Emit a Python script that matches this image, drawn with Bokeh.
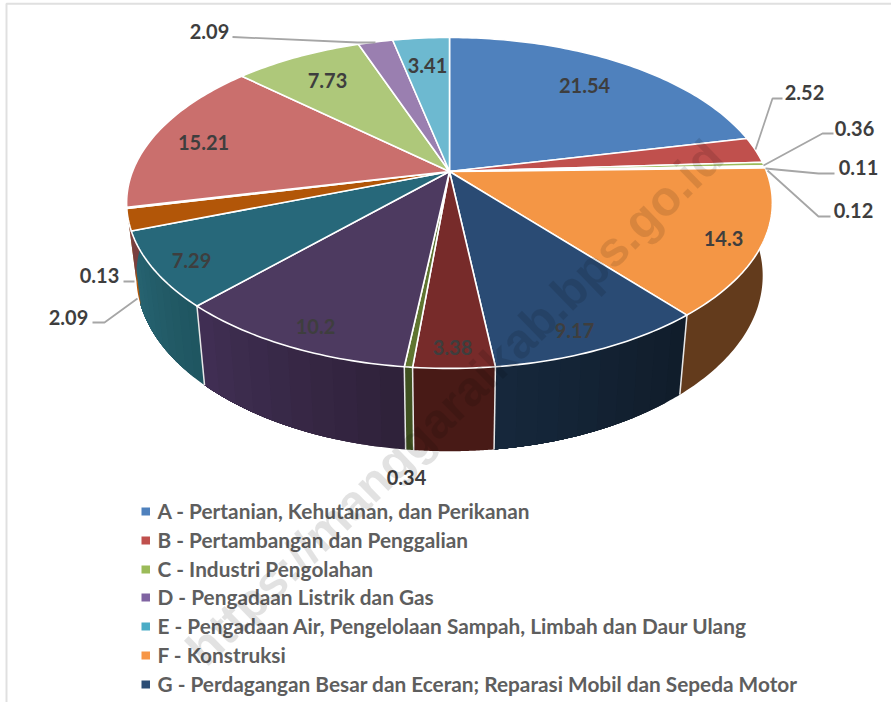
import numpy as np
from bokeh.plotting import figure
from bokeh.models import Range1d
from bokeh.embed import file_html
from bokeh.resources import INLINE
from bokeh.core.properties import value

# ---- data (clockwise from 12 o'clock) ----
slice_values = [21.54, 2.52, 0.36, 0.11, 0.12, 14.3, 9.17, 3.38, 0.34, 10.2, 7.29, 2.09, 0.13, 15.21, 7.73, 2.09, 3.41]
slice_labels = ["21.54", "2.52", "0.36", "0.11", "0.12", "14.3", "9.17", "3.38", "0.34", "10.2", "7.29", "2.09", "0.13", "15.21", "7.73", "2.09", "3.41"]
top_colors = ["#4F81BD", "#C0504D", "#9BBB59", "#8064A2", "#4BACC6", "#F49645", "#2A4B74", "#772B2A", "#5F7530",
              "#4D3A60", "#27687A", "#B25608", "#7C9ECF", "#CA6F6D", "#AEC87A", "#9A7FB0", "#6DB9D0"]
wall_left = ["#2F4D72", "#73302E", "#5D7035", "#4D3C61", "#2D6777", "#633B1C", "#101C2A", "#481A16", "#3F5120",
             "#2E2139", "#1F5560", "#B25608", "#4A5F7C", "#793F3F", "#68784A", "#5C4C6A", "#416F7D"]
wall_right = ["#2F4D72", "#73302E", "#5D7035", "#4D3C61", "#2D6777", "#633B1C", "#16283C", "#481A16", "#3F5120",
              "#412F54", "#276472", "#B25608", "#4A5F7C", "#793F3F", "#68784A", "#5C4C6A", "#416F7D"]
legend_names = ["A - Pertanian, Kehutanan, dan Perikanan",
                "B - Pertambangan dan Penggalian",
                "C - Industri Pengolahan",
                "D - Pengadaan Listrik dan Gas",
                "E - Pengadaan Air, Pengelolaan Sampah, Limbah dan Daur Ulang",
                "F - Konstruksi",
                "G - Perdagangan Besar dan Eceran; Reparasi Mobil dan Sepeda Motor"]
legend_colors = ["#4F81BD", "#C0504D", "#9BBB59", "#8064A2", "#4BACC6", "#F79646", "#2C4D75"]
watermark = "https://manggaraikab.bps.go.id"

# ---- layout (page pixels) ----
CX, CY = 449.0, 171.0       # apex of the pie on the page
A_X, B_Y, K = 317.0, 159.5, 0.19   # perspective of the top face
WALL_DROP, WALL_SX, WALL_SY = 71.0, 0.97, 1.06
label_xy = [(584, 85), (804, 92), (854, 128), (858, 167), (853, 210), (723, 238), (574, 330), (452, 347), (406, 477),
            (315, 326), (191, 260), (68, 317), (99, 275), (203, 142), (327, 80), (209, 31), (427, 65)]
leaders = [([232, 357, 375], [36.5, 42, 42]),
           ([782, 772, 755], [98, 98, 149]),
           ([833, 822, 763], [133, 133, 165]),
           ([834, 818, 765], [173, 173, 168]),
           ([830, 818, 767], [216, 216, 170]),
           ([123, 134], [281, 281]),
           ([92, 104, 137], [322, 322, 298])]
legend_y = [511, 540, 569, 597, 626, 655, 684]


def rim(theta):
    u, v = np.sin(theta), np.cos(theta)
    w = 1 + K * v
    return A_X * u / w, B_Y * v / w


def top_xy(theta):
    x, y = rim(theta)
    return CX + x, CY - y


def bottom_xy(theta):
    x, y = rim(theta)
    return CX + WALL_SX * x, CY + WALL_DROP - WALL_SY * y


def mix(c0, c1, f):
    a = [int(c0[i:i + 2], 16) for i in (1, 3, 5)]
    b = [int(c1[i:i + 2], 16) for i in (1, 3, 5)]
    return "#%02X%02X%02X" % tuple(round(x + (y - x) * f) for x, y in zip(a, b))


p = figure(width=891, height=702, x_range=Range1d(0, 891), y_range=Range1d(702, 0),
           output_backend="svg", toolbar_location=None, min_border=0)
p.axis.visible = False
p.grid.visible = False
p.outline_line_color = None
p.background_fill_color = "#FFFFFF"

# frame of the screenshot
p.line([6, 6, 891], [702, 3.3, 3.3], line_color="#E0E0E0", line_width=2)

total = sum(slice_values)
edges = 2 * np.pi * np.cumsum([0] + slice_values) / total

# walls (front half only); each shade band overlaps the rest of its slice so no seams show
lo, hi = np.radians(85), np.radians(275)
for a0, a1, c0, c1 in zip(edges[:-1], edges[1:], wall_right, wall_left):
    s, e = max(a0, lo), min(a1, hi)
    if e <= s:
        continue
    n_bands = 10 if c0 != c1 else 1
    cuts = np.linspace(s, e, n_bands + 1)
    for i in range(n_bands):
        c = mix(c0, c1, 1 - (i + 0.5) / n_bands)
        t = np.linspace(cuts[i], e, 60)
        tx, ty = top_xy(t)
        bx, by = bottom_xy(t)
        p.patch(np.r_[tx, bx[::-1]], np.r_[ty, by[::-1]], fill_color=c, line_color=None)
for a in edges[1:-1]:
    if np.radians(120) < a < np.radians(240):
        tx, ty = top_xy(a)
        bx, by = bottom_xy(a)
        p.line([tx, bx], [ty, by], line_color="#E8E8E8", line_width=1.5)

# top face
for a0, a1, c in zip(edges[:-1], edges[1:], top_colors):
    t = np.linspace(a0, a1, max(3, int((a1 - a0) * 60)))
    tx, ty = top_xy(t)
    p.patch(np.r_[CX, tx], np.r_[CY, ty], fill_color=c, line_color="#FFFFFF", line_width=1.6, line_join="round")

# leader lines
for lx, ly in leaders:
    p.line(lx, ly, line_color="#A6A6A6", line_width=1.8)

# data labels
p.text([q[0] for q in label_xy], [q[1] for q in label_xy], text=slice_labels, text_font=value("Lato"),
       text_font_style="bold", text_font_size="20px", text_color="#3E3E3E", text_align="center",
       text_baseline="middle")

# legend
for name, col, y in zip(legend_names, legend_colors, legend_y):
    p.quad(left=[141], right=[149.5], top=[y - 4], bottom=[y + 4], fill_color=col, line_color=None)
    p.text([157], [y - 1.5], text=[name], text_font=value("Lato"), text_font_style="bold", text_font_size="20.8px",
           text_color="#5E5E5E", text_align="left", text_baseline="middle")

# watermark
p.text([454], [402], text=[watermark], angle=np.radians(44.3), text_font=value("Liberation Sans"),
       text_font_style="bold", text_font_size="49px", text_color="#000000", text_alpha=0.115,
       text_align="center", text_baseline="middle")

open("out.html", "w").write(file_html(p, INLINE))
